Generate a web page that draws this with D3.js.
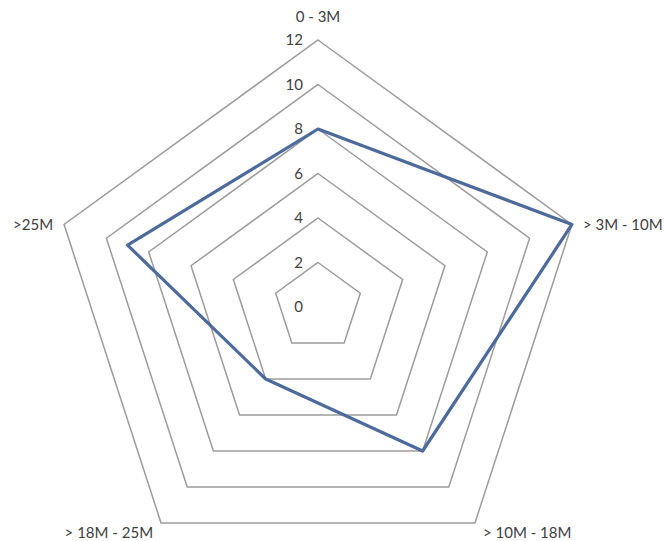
<!DOCTYPE html>
<html><head><meta charset="utf-8">
<script src="https://cdn.jsdelivr.net/npm/d3@7"></script>
<style>body{margin:0;background:#fff}svg{display:block}text{font-family:Lato,"Open Sans",sans-serif;fill:#404040}</style>
</head><body>
<script>
const categories = ["0 - 3M", "> 3M - 10M", "> 10M - 18M", "> 18M - 25M", ">25M"];
const values = [8, 12, 8, 4, 9];
const ticks = [0, 2, 4, 6, 8, 10, 12];

const W = 665, H = 541, cx = 318, cy = 307, R = 267;
const svg = d3.select("body").append("svg").attr("width", W).attr("height", H);
const g = svg.append("g").attr("transform", `translate(${cx},${cy})`);
const r = d3.scaleLinear().domain([0, 12]).range([0, R]);
const ang = d3.scalePoint().domain(categories).range([0, 2 * Math.PI * (categories.length - 1) / categories.length]);
const pt = (c, v) => { const a = ang(c); return [r(v) * Math.sin(a), -r(v) * Math.cos(a)]; };

// rings
ticks.filter(t => t > 0).forEach(t => {
  g.append("path")
    .attr("d", d3.line()(categories.map(c => pt(c, t))) + "Z")
    .attr("fill", "none").attr("stroke", "#9c9c9c").attr("stroke-width", 1.5);
});
// tick labels
g.selectAll(".tick").data(ticks).enter().append("text")
  .attr("x", -15).attr("y", d => -r(d)).attr("dy", "0.35em")
  .attr("text-anchor", "end").style("font-size", "15px").text(d => d);

// data line
g.append("path")
  .attr("d", d3.line()(categories.map((c, i) => pt(c, values[i]))) + "Z")
  .attr("fill", "none").attr("stroke", "#4d6a9c").attr("stroke-width", 3.2).attr("stroke-linejoin", "round");

// category labels
const labelPos = [
  {dx: 0, dy: -23, anchor: "middle"},
  {dx: 11, dy: 0, anchor: "start"},
  {dx: 8, dy: 10, anchor: "start"},
  {dx: -8, dy: 10, anchor: "end"},
  {dx: -11, dy: 0, anchor: "end"}
];
categories.forEach((c, i) => {
  const [x, y] = pt(c, 12);
  g.append("text").attr("x", x + labelPos[i].dx).attr("y", y + labelPos[i].dy)
    .attr("dy", "0.35em").attr("text-anchor", labelPos[i].anchor)
    .style("font-size", "15px").text(c);
});
</script>
</body></html>
